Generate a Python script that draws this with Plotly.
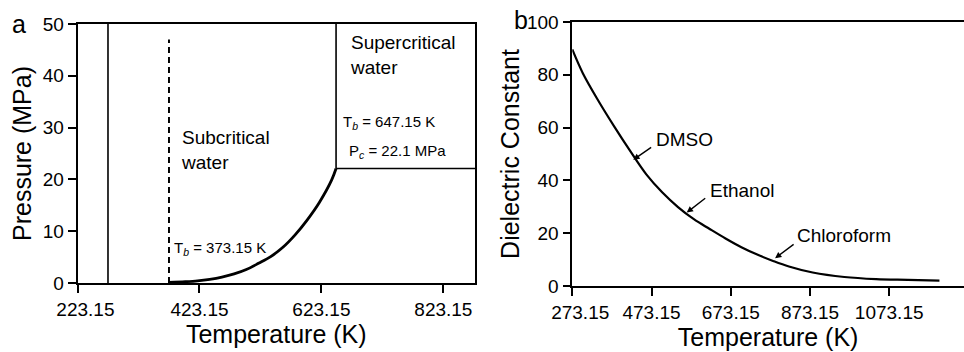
import plotly.graph_objects as go

# ---------------- data ----------------
# panel a: phase diagram of water
freezing_T = 273.15
boiling_T = 373.15
critical_T = 647.15
critical_P = 22.1
P_top = 50
dashed_top = 47
vp_T = [373.15, 400, 420, 440, 460, 480, 500, 520, 540, 560, 580, 600, 620, 640, 647.15]
vp_P = [0.1, 0.25, 0.42, 0.72, 1.15, 1.75, 2.6, 3.8, 5.1, 6.9, 9.3, 12.2, 15.6, 19.9, 22.1]
a_xticks = [223.15, 423.15, 623.15, 823.15]
a_yticks = [0, 10, 20, 30, 40, 50]

# panel b: dielectric constant of water
diel_T = [273.15, 300, 340, 380, 420, 460, 500, 540, 580, 620, 660, 700, 740, 780, 820,
          880, 960, 1040, 1120, 1200]
diel_eps = [89.6, 80.5, 69.9, 60.2, 51.0, 42.3, 35.5, 29.9, 25.3, 21.6, 18.0, 14.7, 11.9,
            9.5, 7.4, 5.1, 3.4, 2.6, 2.3, 2.0]
b_xticks = [273.15, 473.15, 673.15, 873.15, 1073.15]
b_yticks = [0, 20, 40, 60, 80, 100]
solvent_names = ["DMSO", "Ethanol", "Chloroform"]
solvent_label_T = [479.5, 616.6, 835.0]
solvent_label_eps = [55.4, 36.2, 19.1]
solvent_arrow_T = [427, 562, 785]
solvent_arrow_eps = [47.8, 27.8, 10.5]
solvent_tail_T = [476, 612.5, 835.6]
solvent_tail_eps = [52.9, 33.7, 16.2]

A_XMAX = 875
B_XMAX = 1262

FONT = "Liberation Sans, Arial, Helvetica, sans-serif"
W, H = 964, 352

def fmt_ticks(vals):
    txt = ["%.2f" % v for v in vals]
    txt[0] = "\u00a0\u00a0\u00a0" + txt[0]
    return txt

fig = go.Figure()
line_style = dict(color="black", width=1.6)

# panel a lines
fig.add_trace(go.Scatter(x=[freezing_T, freezing_T], y=[0, P_top], mode="lines",
                         line=line_style, xaxis="x", yaxis="y"))
fig.add_trace(go.Scatter(x=[boiling_T, boiling_T], y=[0, dashed_top], mode="lines",
                         line=dict(color="black", width=2, dash="6px,4px"), xaxis="x", yaxis="y"))
fig.add_trace(go.Scatter(x=[critical_T, critical_T], y=[critical_P, P_top], mode="lines",
                         line=line_style, xaxis="x", yaxis="y"))
fig.add_trace(go.Scatter(x=[critical_T, A_XMAX], y=[critical_P, critical_P], mode="lines",
                         line=line_style, xaxis="x", yaxis="y"))
fig.add_trace(go.Scatter(x=vp_T, y=vp_P, mode="lines",
                         line=dict(color="black", width=2.8, shape="spline", smoothing=1.0),
                         xaxis="x", yaxis="y"))

# panel b curve
fig.add_trace(go.Scatter(x=diel_T, y=diel_eps, mode="lines",
                         line=dict(color="black", width=2.2, shape="spline", smoothing=1.0),
                         xaxis="x2", yaxis="y2"))

axis_common = dict(showline=True, linecolor="black", linewidth=1.6, ticks="outside",
                   ticklen=8, tickwidth=1.6, tickcolor="black", showgrid=False,
                   zeroline=False, automargin=False,
                   tickfont=dict(family=FONT, size=19, color="black"))
title_font = dict(family=FONT, size=25, color="black")

fig.update_layout(
    width=W, height=H, margin=dict(l=0, r=0, t=0, b=0, autoexpand=False),
    paper_bgcolor="white", plot_bgcolor="white", showlegend=False,
    font=dict(family=FONT, color="black"),
    xaxis=dict(domain=[77.5 / W, 475 / W], range=[223.15, A_XMAX],
               tickmode="array", tickvals=a_xticks, ticktext=fmt_ticks(a_xticks),
               mirror=True, title=dict(text="Temperature (K)", font=title_font, standoff=7),
               **axis_common),
    yaxis=dict(domain=[(H - 283) / H, (H - 24) / H], range=[0, 50],
               tickmode="array", tickvals=a_yticks, mirror=True,
               title=dict(text="Pressure (MPa)", font=title_font, standoff=4),
               **axis_common),
    xaxis2=dict(domain=[572.3 / W, 1.0], range=[273.15, B_XMAX], anchor="y2",
                tickmode="array", tickvals=b_xticks, ticktext=fmt_ticks(b_xticks),
                mirror=True, title=dict(text="Temperature (K)", font=title_font, standoff=7),
                **axis_common),
    yaxis2=dict(domain=[(H - 286) / H, (H - 22) / H], range=[0, 100], anchor="x2",
                tickmode="array", tickvals=b_yticks,
                title=dict(text="Dielectric Constant", font=title_font, standoff=0),
                **axis_common),
)

ann = []
# panel letters
ann.append(dict(text="a", x=19 / W, y=1 - 23.5 / H, xref="paper", yref="paper",
                showarrow=False, font=dict(family=FONT, size=25), xanchor="center", yanchor="middle"))
ann.append(dict(text="b", x=521 / W, y=1 - 19.5 / H, xref="paper", yref="paper",
                showarrow=False, font=dict(family=FONT, size=25), xanchor="center", yanchor="middle"))

region_font = dict(family=FONT, size=19, color="black")
small_font = dict(family=FONT, size=15, color="black")
ann.append(dict(text="Supercritical<br>water", x=666, y=44, xref="x", yref="y", showarrow=False,
                font=region_font, xanchor="left", yanchor="middle", align="left"))
ann.append(dict(text="Subcritical<br>water", x=390, y=25.7, xref="x", yref="y", showarrow=False,
                font=region_font, xanchor="left", yanchor="middle", align="left"))
ann.append(dict(text="T<sub><i>b</i></sub> = 647.15 K", x=656, y=30.9, xref="x", yref="y",
                showarrow=False, font=small_font, xanchor="left", yanchor="middle"))
ann.append(dict(text="P<sub><i>c</i></sub> = 22.1 MPa", x=664.5, y=25.3, xref="x", yref="y",
                showarrow=False, font=small_font, xanchor="left", yanchor="middle"))
ann.append(dict(text="T<sub><i>b</i></sub> = 373.15 K", x=378, y=6.75, xref="x", yref="y",
                showarrow=False, font=small_font, xanchor="left", yanchor="middle"))

for name, lx, ly, hx, hy, tx, ty in zip(solvent_names, solvent_label_T, solvent_label_eps,
                                         solvent_arrow_T, solvent_arrow_eps,
                                         solvent_tail_T, solvent_tail_eps):
    ann.append(dict(text=name, x=lx, y=ly, xref="x2", yref="y2", showarrow=False,
                    font=region_font, xanchor="left", yanchor="middle"))
    ann.append(dict(text="", x=hx, y=hy, ax=tx, ay=ty, xref="x2", yref="y2",
                    axref="x2", ayref="y2", showarrow=True, arrowhead=2, arrowsize=0.9,
                    arrowwidth=1.4, arrowcolor="black", standoff=0, startstandoff=0))

fig.update_layout(annotations=ann)
fig.write_html("out.html", config={"displayModeBar": False},
               post_script="document.body.style.margin='0';document.body.style.overflow='hidden';")
